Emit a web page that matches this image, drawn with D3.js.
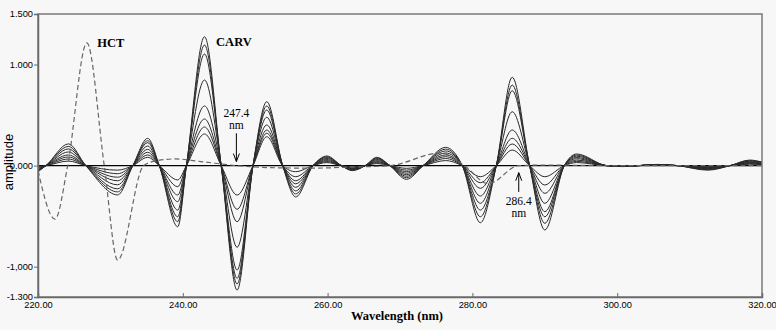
<!DOCTYPE html>
<html><head><meta charset="utf-8">
<script src="https://cdn.jsdelivr.net/npm/d3@7"></script>
<style>body{margin:0;background:#f7f7f7;}svg{display:block;}</style>
</head><body>
<svg id="chart" width="776" height="330"></svg>
<script>
// ---- data ----
const xTickValues = [220, 240, 260, 280, 300, 320];
const xTickLabels = ["220.00", "240.00", "260.00", "280.00", "300.00", "320.00"];
const yTickValues = [1.5, 1.0, 0, -1.0, -1.3];
const yTickLabels = ["1.500", "1.000", "0.000", "-1,000", "-1.300"];

// CARV: common zero crossings (nm)
const carvZeros = [221.1, 226.6, 233.1, 236.75, 240.5, 245.3, 249.7, 253.8, 258.0, 261.9, 265.2, 268.6, 273.2, 278.6, 283.3, 287.9, 292.7, 298.5, 303.0, 308.3, 315.6];
// CARV: extremum wavelengths (nm)
const carvExtremaWl = [220, 224.2, 231.0, 235.15, 239.3, 243.0, 247.5, 251.6, 255.6, 259.9, 263.4, 266.8, 270.9, 276.3, 281.1, 285.5, 290.0, 294.4, 300.8, 305.5, 312.5, 318.3, 320];
// CARV amplitudes at the extrema, one array per concentration
const carv1 = [-0.06, 0.215, -0.29, 0.27, -0.605, 1.275, -1.231, 0.632, -0.31, 0.095, -0.05, 0.082, -0.136, 0.181, -0.565, 0.874, -0.637, 0.115, -0.01, 0.012, -0.045, 0.055, 0.035];
const carv2 = [-0.055, 0.19, -0.26, 0.246, -0.555, 1.193, -1.171, 0.59, -0.28, 0.087, -0.045, 0.075, -0.12, 0.163, -0.506, 0.797, -0.571, 0.104, -0.009, 0.011, -0.04, 0.05, 0.032];
const carv3 = [-0.05, 0.165, -0.23, 0.227, -0.506, 1.104, -1.115, 0.55, -0.25, 0.079, -0.04, 0.068, -0.105, 0.145, -0.44, 0.741, -0.506, 0.093, -0.008, 0.01, -0.035, 0.044, 0.028];
const carv4 = [-0.045, 0.135, -0.19, 0.194, -0.44, 0.847, -1.033, 0.478, -0.215, 0.07, -0.035, 0.06, -0.09, 0.125, -0.373, 0.533, -0.456, 0.08, -0.007, 0.009, -0.03, 0.038, 0.024];
const carv5 = [-0.04, 0.105, -0.15, 0.161, -0.357, 0.59, -0.808, 0.402, -0.18, 0.06, -0.03, 0.05, -0.075, 0.105, -0.301, 0.352, -0.373, 0.068, -0.006, 0.008, -0.025, 0.032, 0.02];
const carv6 = [-0.03, 0.085, -0.115, 0.132, -0.291, 0.461, -0.555, 0.352, -0.15, 0.05, -0.025, 0.04, -0.06, 0.088, -0.225, 0.27, -0.274, 0.055, -0.005, 0.007, -0.02, 0.026, 0.016];
const carv7 = [-0.02, 0.065, -0.08, 0.105, -0.209, 0.382, -0.432, 0.32, -0.11, 0.04, -0.02, 0.03, -0.045, 0.07, -0.169, 0.214, -0.192, 0.042, -0.004, 0.006, -0.015, 0.02, 0.012];
const carv8 = [-0.01, 0.045, -0.045, 0.082, -0.142, 0.313, -0.291, 0.286, -0.06, 0.03, -0.012, 0.02, -0.027, 0.05, -0.11, 0.154, -0.11, 0.03, -0.003, 0.004, -0.01, 0.014, 0.008];

// HCT (dashed)
const hctWl = [220, 222.35, 224.1, 226.75, 229.15, 231.0, 234.6, 236.5, 239, 242.5, 247.4, 252, 258, 263, 268.6, 275.6, 278.9, 282.2, 286.4, 290, 300, 320];
const hctVal = [-0.05, -0.53, 0, 1.215, 0, -0.935, 0, 0.05, 0.066, 0.04, 0, -0.02, -0.025, -0.015, 0, 0.125, 0, -0.18, 0, 0.005, 0, 0];

const labels = [
  {text: "HCT", wl: 228.2, v: 1.175},
  {text: "CARV", wl: 244.6, v: 1.185}
];
const marks = [
  {wl: 247.4, lines: ["247.4", "nm"], v1: 0.485, v2: 0.365, from: 0.32, to: 0.04},
  {wl: 286.4, lines: ["286.4", "nm"], v1: -0.39, v2: -0.51, from: -0.26, to: -0.07}
];

// ---- drawing ----
const svg = d3.select("#chart");
const W = 776, H = 330;
svg.append("rect").attr("width", W).attr("height", H).attr("fill", "#f7f7f7");

const x = d3.scaleLinear().domain([220, 320]).range([38, 762]);
const y = d3.scaleLinear().domain([-1.3, 1.5]).range([297, 14]);

svg.append("clipPath").attr("id", "clip").append("rect")
  .attr("x", 38).attr("y", 14).attr("width", 724).attr("height", 283);

const plot = svg.append("g").attr("clip-path", "url(#clip)");

// zero line
plot.append("line")
  .attr("x1", x(220)).attr("x2", x(320)).attr("y1", y(0)).attr("y2", y(0))
  .attr("stroke", "#000").attr("stroke-width", 1.2);

const line = d3.line().x(d => x(d[0])).y(d => y(d[1])).curve(d3.curveMonotoneX);

const carvSeries = [carv1, carv2, carv3, carv4, carv5, carv6, carv7, carv8];
carvSeries.forEach(vals => {
  const pts = carvExtremaWl.map((w, i) => [w, vals[i]])
    .concat(carvZeros.map(w => [w, 0]))
    .sort((a, b) => a[0] - b[0]);
  plot.append("path").datum(pts)
    .attr("d", line).attr("fill", "none")
    .attr("stroke", "#2a2a2a").attr("stroke-width", 1);
});

plot.append("path").datum(hctWl.map((w, i) => [w, hctVal[i]]))
  .attr("d", line).attr("fill", "none")
  .attr("stroke", "#666").attr("stroke-width", 1.2)
  .attr("stroke-dasharray", "5,3");

// frame
svg.append("rect").attr("x", 38).attr("y", 14).attr("width", 724).attr("height", 283)
  .attr("fill", "none").attr("stroke", "#7a7a7a").attr("stroke-width", 1.5);

// axes
const yAxis = svg.append("g").attr("transform", "translate(38,0)")
  .call(d3.axisLeft(y).tickValues(yTickValues)
    .tickFormat((d, i) => yTickLabels[i]).tickSize(4).tickPadding(1));
const xAxis = svg.append("g").attr("transform", "translate(0,297)")
  .call(d3.axisBottom(x).tickValues(xTickValues)
    .tickFormat((d, i) => xTickLabels[i]).tickSize(-4).tickPadding(4));
[yAxis, xAxis].forEach(g => {
  g.select(".domain").attr("stroke", "#6a6a6a").attr("stroke-width", 1.5);
  g.selectAll(".tick line").attr("stroke", "#6a6a6a");
  g.selectAll("text").attr("font-family", "'Liberation Sans', Arial, sans-serif")
    .attr("font-size", 9.3).attr("fill", "#000");
});

svg.append("text").attr("transform", "translate(13,162) rotate(-90)")
  .attr("text-anchor", "middle")
  .attr("font-family", "'Liberation Sans', Arial, sans-serif").attr("font-size", 13)
  .text("amplitude");

svg.append("text").attr("x", 397).attr("y", 320).attr("text-anchor", "middle")
  .attr("font-family", "'Liberation Serif', 'Times New Roman', serif")
  .attr("font-weight", "bold").attr("font-size", 12.5)
  .text("Wavelength (nm)");

labels.forEach(l => {
  svg.append("text").attr("x", x(l.wl)).attr("y", y(l.v))
    .attr("font-family", "'Liberation Serif', 'Times New Roman', serif")
    .attr("font-weight", "bold").attr("font-size", 12.5).text(l.text);
});

marks.forEach(m => {
  const g = svg.append("g").attr("font-family", "'Liberation Serif', 'Times New Roman', serif")
    .attr("font-size", 11.5).attr("text-anchor", "middle");
  g.append("text").attr("x", x(m.wl)).attr("y", y(m.v1)).text(m.lines[0]);
  g.append("text").attr("x", x(m.wl)).attr("y", y(m.v2)).text(m.lines[1]);
  const x0 = x(m.wl), ya = y(m.from), yb = y(m.to);
  const dir = yb > ya ? 1 : -1;
  g.append("line").attr("x1", x0).attr("x2", x0).attr("y1", ya).attr("y2", yb)
    .attr("stroke", "#000").attr("stroke-width", 1);
  g.append("path")
    .attr("d", `M${x0 - 3},${yb - dir * 8}L${x0},${yb}L${x0 + 3},${yb - dir * 8}`)
    .attr("fill", "none").attr("stroke", "#000").attr("stroke-width", 1);
});
</script>
</body></html>
